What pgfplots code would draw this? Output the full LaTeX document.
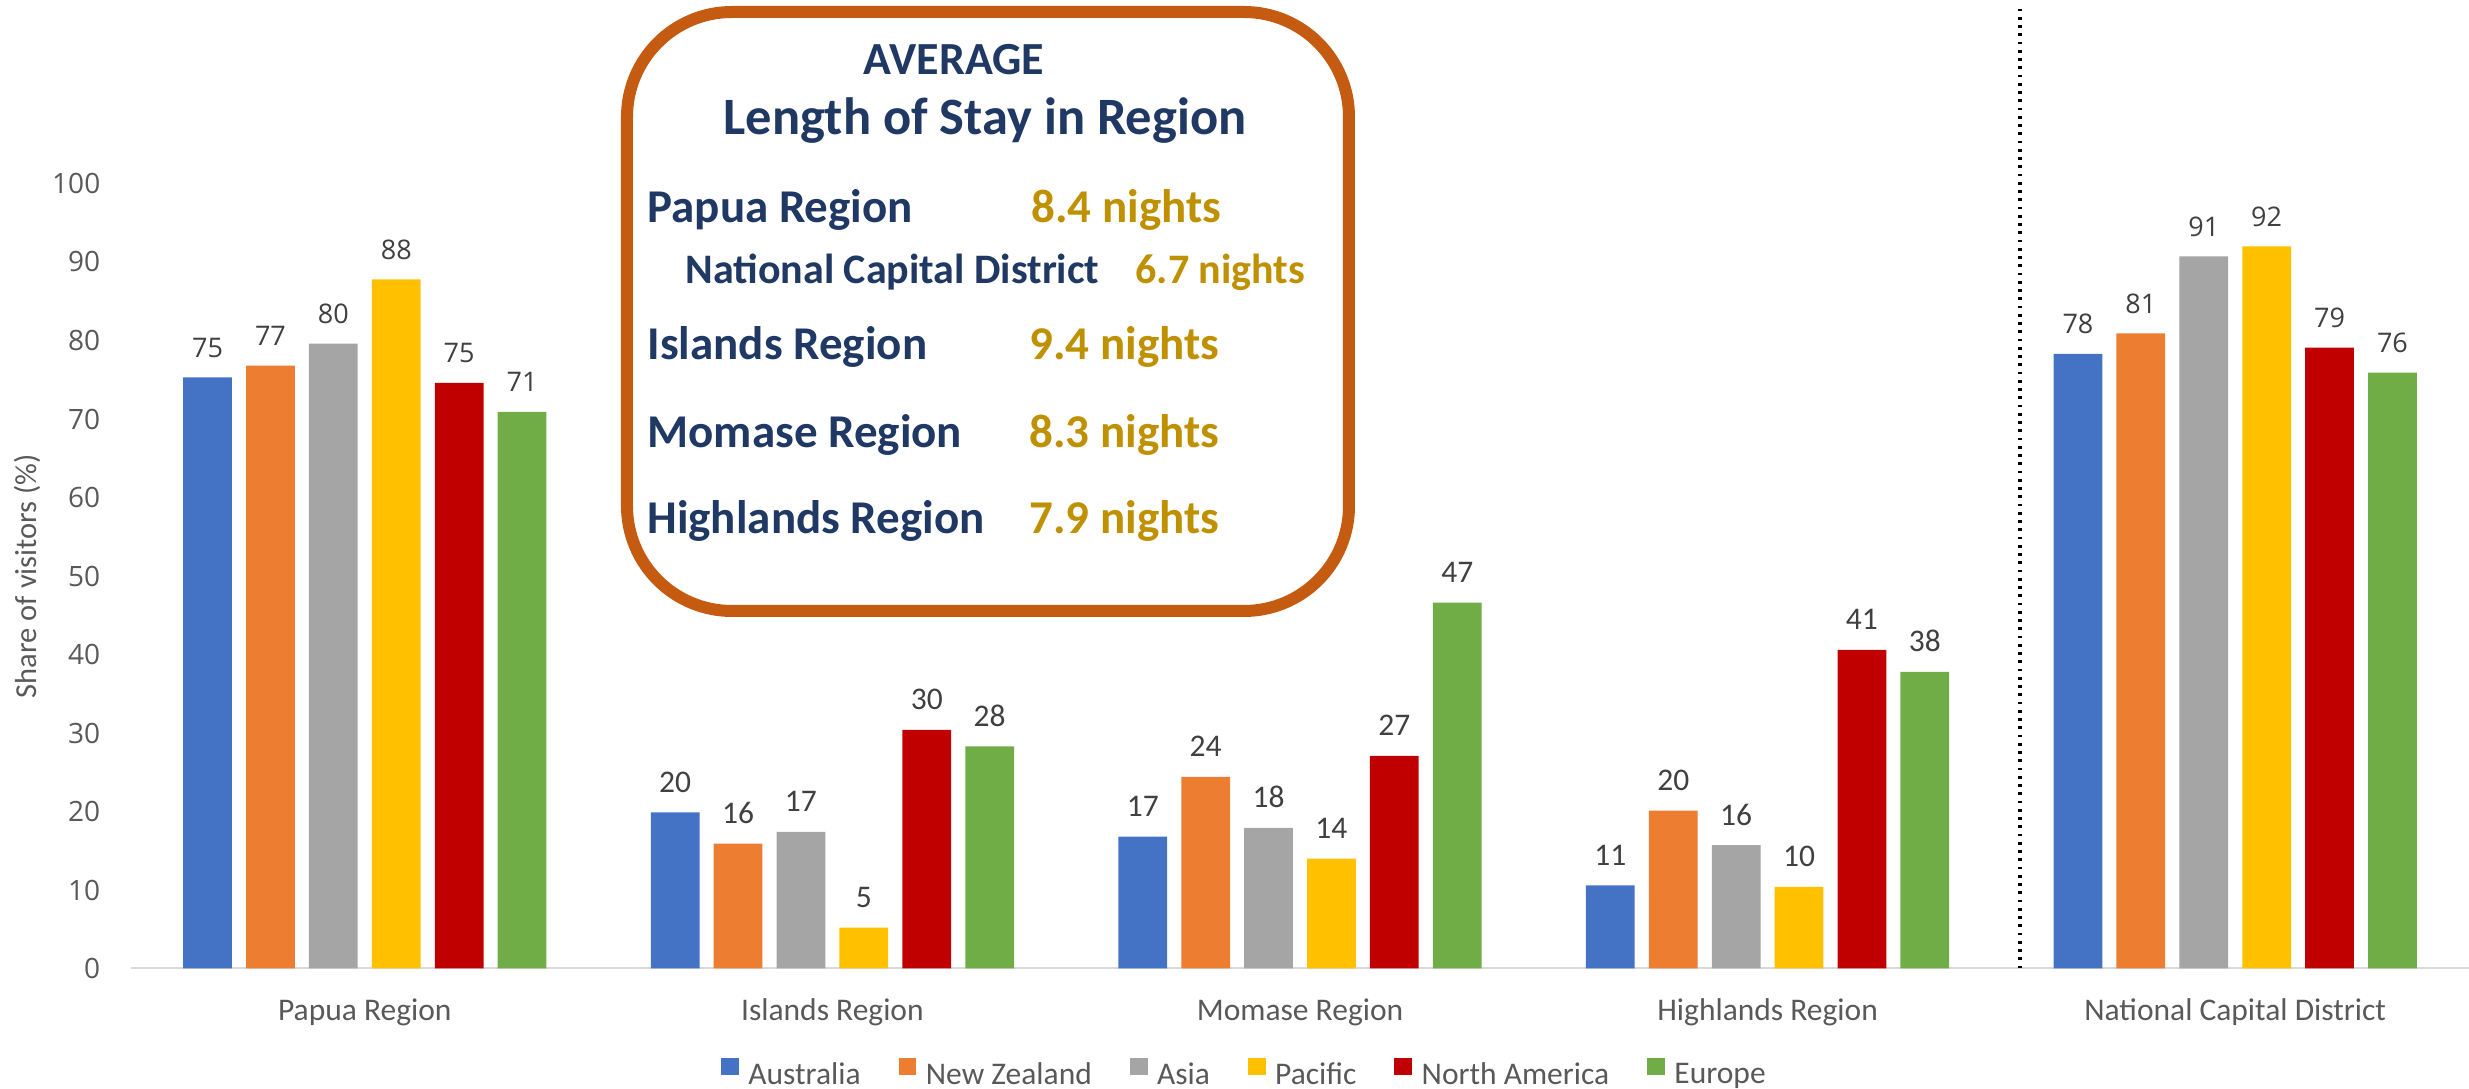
\documentclass[border=0pt]{standalone}
\usepackage{fontspec}
\setmainfont{Carlito}
\newfontfamily\opensans{Open Sans}
\usepackage{pgfplots}
\usepackage{pgfplotstable}
\pgfplotsset{compat=1.18}

\definecolor{ausblue}{HTML}{4472C4}
\definecolor{nzorange}{HTML}{ED7D31}
\definecolor{asiagray}{HTML}{A5A5A5}
\definecolor{pacgold}{HTML}{FFC000}
\definecolor{nared}{HTML}{C00000}
\definecolor{eurgreen}{HTML}{70AD47}
\definecolor{tickgray}{HTML}{595959}
\definecolor{labelgray}{HTML}{404040}
\definecolor{axisgray}{HTML}{D9D9D9}
\definecolor{navy}{HTML}{203864}
\definecolor{nightsgold}{HTML}{BF9000}
\definecolor{boxorange}{HTML}{C55A11}

% Share of visitors (%) by source market: Papua Region (0) and National Capital District (4)
\pgfplotstableread{
cat aus nz asia pac na eur
0 75.3 76.8 79.6 87.8 74.6 70.9
4 78.3 80.9 90.7 92.0 79.1 75.9
}\outer
% Islands (1), Momase (2) and Highlands (3) regions
\pgfplotstableread{
cat aus nz asia pac na eur
1 19.9 15.9 17.4 5.2 30.4 28.3
2 16.8 24.4 17.9 14.0 27.1 46.6
3 10.6 20.1 15.7 10.4 40.6 37.8
}\inner

\begin{document}
\begin{tikzpicture}
\path[use as bounding box] (0pt,0pt) rectangle (987.6pt,435.6pt);

\begin{axis}[
  at={(52.4pt,48.2pt)}, anchor=south west,
  width=935.2pt, height=314pt, scale only axis,
  xmin=-0.5, xmax=4.5, ymin=0, ymax=100,
  ybar, bar width=19.5pt,
  clip=false,
  axis lines*=left,
  x axis line style={draw=axisgray, line width=0.8pt},
  y axis line style={draw=none},
  major tick length=0pt, tick style={draw=none},
  xtick={0,1,2,3,4},
  xticklabels={Papua Region, Islands Region, Momase Region, Highlands Region, National Capital District},
  xticklabel style={anchor=base, inner sep=0pt, yshift=-21pt, text=tickgray, font=\fontsize{12.6pt}{15pt}\selectfont},
  ytick={0,10,...,100},
  /pgf/number format/assume math mode=true,
  yticklabel style={anchor=east, inner sep=0pt, xshift=-12.1pt, text=tickgray, font=\opensans\fontsize{11.2pt}{13pt}\selectfont},
  ylabel={Share of visitors (\%)},
  every axis y label/.style={at={(axis description cs:-0.0445,0.5)}, anchor=center, rotate=90, text=tickgray, font=\fontsize{12.2pt}{15pt}\selectfont},
  nodes near coords={\pgfmathprintnumber[fixed,precision=0]{\pgfplotspointmeta}},
  every node near coord/.append style={anchor=base, inner sep=0pt, yshift=8pt, text=labelgray},
  sansval/.style={nodes near coords style={font=\opensans\fontsize{10.8pt}{13pt}\selectfont}},
  calval/.style={nodes near coords style={font=\fontsize{12.6pt}{15pt}\selectfont}, forget plot},
  legend columns=6,
  legend image code/.code={\fill[#1,/tikz/.cd] (0pt,0pt) rectangle (7.1pt,7.1pt);},
  legend style={at={(0.4758,-0.133)}, anchor=center, draw=none, fill=none,
    text=tickgray, font=\fontsize{12.6pt}{15pt}\selectfont,
    nodes={inner sep=0pt},
    /tikz/every odd column/.append style={column sep=3.8pt},
    /tikz/every even column/.append style={column sep=15.2pt}},
]
\addplot[fill=ausblue, draw=none, bar shift=-62.9pt, sansval] table[x=cat, y=aus] {\outer};
\addlegendentry{Australia}
\addplot[fill=nzorange, draw=none, bar shift=-37.74pt, sansval] table[x=cat, y=nz] {\outer};
\addlegendentry{New Zealand}
\addplot[fill=asiagray, draw=none, bar shift=-12.58pt, sansval] table[x=cat, y=asia] {\outer};
\addlegendentry{Asia}
\addplot[fill=pacgold, draw=none, bar shift=12.58pt, sansval] table[x=cat, y=pac] {\outer};
\addlegendentry{Pacific}
\addplot[fill=nared, draw=none, bar shift=37.74pt, sansval] table[x=cat, y=na] {\outer};
\addlegendentry{North America}
\addplot[fill=eurgreen, draw=none, bar shift=62.9pt, sansval] table[x=cat, y=eur] {\outer};
\addlegendentry{Europe}

\addplot[fill=ausblue, draw=none, bar shift=-62.9pt, calval] table[x=cat, y=aus] {\inner};
\addplot[fill=nzorange, draw=none, bar shift=-37.74pt, calval] table[x=cat, y=nz] {\inner};
\addplot[fill=asiagray, draw=none, bar shift=-12.58pt, calval] table[x=cat, y=asia] {\inner};
\addplot[fill=pacgold, draw=none, bar shift=12.58pt, calval] table[x=cat, y=pac] {\inner};
\addplot[fill=nared, draw=none, bar shift=37.74pt, calval] table[x=cat, y=na] {\inner};
\addplot[fill=eurgreen, draw=none, bar shift=62.9pt, calval] table[x=cat, y=eur] {\inner};

% divider before the National Capital District
\draw[black, line width=1.6pt, dash pattern=on 1.1pt off 2.2pt] (axis cs:3.54,0) -- (axis cs:3.54,122.4);
\end{axis}

% average length of stay panel
\begin{scope}[x=0.4pt, y=-0.4pt, yshift=435.6pt]
  \draw[boxorange, line width=4.8pt, rounded corners=42pt, fill=white] (627,12) rectangle (1349,611);
  \begin{scope}[every node/.style={inner sep=0pt, font=\bfseries\fontsize{18.8pt}{22pt}\selectfont}]
    \node[anchor=base, text=navy, font=\bfseries\fontsize{18.4pt}{22pt}\selectfont] at (954,74.7) {AVERAGE};
    \node[anchor=base, text=navy, font=\bfseries\fontsize{21pt}{25pt}\selectfont] at (985,135) {Length of Stay in Region};
    \node[anchor=base west, text=navy] at (647,222.6) {Papua Region};
    \node[anchor=base west, text=nightsgold] at (1031,222.6) {8.4 nights};
    \node[anchor=base west, text=navy, font=\bfseries\fontsize{16.8pt}{20pt}\selectfont] at (685,284) {National Capital District};
    \node[anchor=base west, text=nightsgold, font=\bfseries\fontsize{16.8pt}{20pt}\selectfont] at (1135,284) {6.7 nights};
    \node[anchor=base west, text=navy] at (647,359.7) {Islands Region};
    \node[anchor=base west, text=nightsgold] at (1029,359.7) {9.4 nights};
    \node[anchor=base west, text=navy] at (647,448) {Momase Region};
    \node[anchor=base west, text=nightsgold] at (1029,448) {8.3 nights};
    \node[anchor=base west, text=navy] at (647,533.4) {Highlands Region};
    \node[anchor=base west, text=nightsgold] at (1029,533.4) {7.9 nights};
  \end{scope}
\end{scope}
\end{tikzpicture}
\end{document}
